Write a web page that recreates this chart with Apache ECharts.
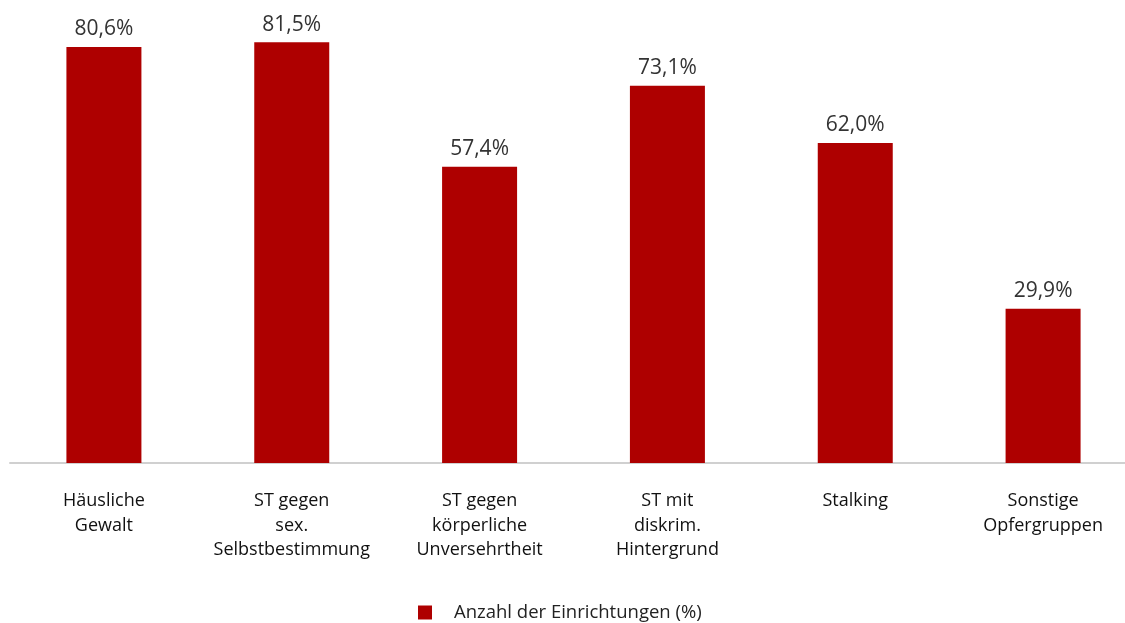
<!DOCTYPE html>
<html><head><meta charset="utf-8">
<script src="https://cdn.jsdelivr.net/npm/echarts@6/dist/echarts.min.js"></script>
<style>html,body{margin:0;padding:0;background:#fff;overflow:hidden}#c{width:1140px;height:623px}</style>
</head><body><div id="c"></div>
<script>
const categories = ['Häusliche\nGewalt','ST gegen\nsex.\nSelbstbestimmung','ST gegen\nkörperliche\nUnversehrtheit','ST mit\ndiskrim.\nHintergrund','Stalking','Sonstige\nOpfergruppen'];
const values = [80.6, 81.5, 57.4, 73.1, 62.0, 29.9];
const seriesName = 'Anzahl der Einrichtungen (%)';
const chart = echarts.init(document.getElementById('c'));
const font = 'Open Sans';
chart.setOption({
  animation: false,
  textStyle: {fontFamily: font},
  grid: {left: 10, width: 1127, top: 0, bottom: 160, containLabel: false},
  legend: {
    data: [seriesName], top: 603, left: 418, padding: 0, icon: 'rect', itemWidth: 14, itemHeight: 14, itemGap: 20,
    textStyle: {fontFamily: font, fontSize: 18.5, color: '#222', padding: [0, 0, 0, 17]}
  },
  xAxis: {
    type: 'category', data: categories,
    axisLine: {lineStyle: {color: '#d0d0d0', width: 2}},
    axisTick: {show: false},
    axisLabel: {interval: 0, margin: 26, fontFamily: font, fontSize: 18, lineHeight: 24.5, color: '#111'}
  },
  yAxis: {type: 'value', min: 0, max: 89.7, show: false, splitLine: {show: false}},
  series: [{
    name: seriesName, type: 'bar', data: values, barWidth: 75,
    itemStyle: {color: '#ae0000'},
    label: {show: true, position: 'top', distance: 7, fontFamily: font, fontSize: 21, color: '#333',
      formatter: p => p.value.toFixed(1).replace('.', ',') + '%'}
  }]
});
</script></body></html>
